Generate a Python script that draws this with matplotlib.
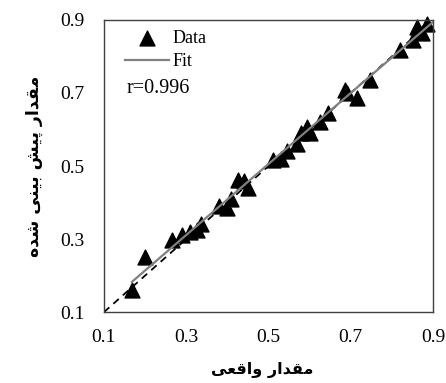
import numpy as np
import matplotlib
matplotlib.use("Agg")
import matplotlib.pyplot as plt

actual = [0.168, 0.200, 0.265, 0.290, 0.310, 0.326, 0.335, 0.380, 0.400, 0.410,
          0.426, 0.440, 0.450, 0.510, 0.530, 0.545, 0.570, 0.580, 0.594, 0.600,
          0.625, 0.645, 0.686, 0.690, 0.715, 0.747, 0.820, 0.851, 0.861, 0.873, 0.885]
predicted = [0.160, 0.250, 0.297, 0.310, 0.320, 0.325, 0.340, 0.390, 0.385, 0.410,
             0.462, 0.460, 0.440, 0.516, 0.520, 0.540, 0.560, 0.590, 0.607, 0.590,
             0.620, 0.645, 0.708, 0.700, 0.686, 0.736, 0.818, 0.846, 0.881, 0.864, 0.890]
r_text = "r=0.996"
ticks = [0.1, 0.3, 0.5, 0.7, 0.9]

# Persian labels, written as presentation forms in visual order (no shaping in mpl)
xlabel = "".join(reversed("\uFEE3\uFED8\uFEAA\uFE8D\uFEAD \uFEED\uFE8D\uFED7\uFECC\uFEF0"))
ylabel = "".join(reversed("\uFEE3\uFED8\uFEAA\uFE8D\uFEAD \uFB58\uFEF4\uFEB6 "
                          "\uFE91\uFEF4\uFEE8\uFEF0 \uFEB7\uFEAA\uFEE9"))

serif = "Liberation Serif"

fig = plt.figure(figsize=(4.46, 3.83), dpi=100)
ax = fig.add_axes([0.233, 0.185, 0.738, 0.763])

x = np.array(actual)
y = np.array(predicted)
a, b = np.polyfit(x, y, 1)

ax.plot([0.1, 0.9], [0.1, 0.9], "--", color="black", linewidth=1.3, dashes=(4, 3), zorder=1)
ax.scatter(x, y, marker="^", s=115, color="black", zorder=2, label="Data", clip_on=False)
xf = np.array([x.min(), 0.9])
ax.plot(xf, a * xf + b, color="#808080", linewidth=1.6, zorder=3, label="Fit")

ax.set_xlim(0.1, 0.9)
ax.set_ylim(0.1, 0.9)
ax.set_xticks(ticks)
ax.set_yticks(ticks)
ax.set_xticklabels([f"{t:.1f}" for t in ticks], fontfamily=serif, fontsize=14)
ax.set_yticklabels([f"{t:.1f}" for t in ticks], fontfamily=serif, fontsize=14)
ax.tick_params(length=0, pad=14)
ax.tick_params(axis="x", pad=12)
for sp in ax.spines.values():
    sp.set_color("#404040")
    sp.set_linewidth(1.0)

ax.set_xlabel(xlabel, fontfamily="DejaVu Sans", fontweight="bold", fontsize=11.5)
ax.set_ylabel(ylabel, fontfamily="DejaVu Sans", fontweight="bold", fontsize=12.5)
ax.xaxis.set_label_coords(0.48, -0.17)
ax.yaxis.set_label_coords(-0.185, 0.5)

h, l = ax.get_legend_handles_labels()
leg = ax.legend(h, l, loc="upper left", bbox_to_anchor=(0.065, 0.965), frameon=False,
                prop={"family": serif, "size": 13}, handlelength=2.4,
                handletextpad=0.2, labelspacing=0.35, borderpad=0, borderaxespad=0)
ax.text(0.07, 0.765, r_text, transform=ax.transAxes, fontfamily=serif, fontsize=14.5,
        va="center", ha="left")

fig.savefig("out.png", dpi=100)
